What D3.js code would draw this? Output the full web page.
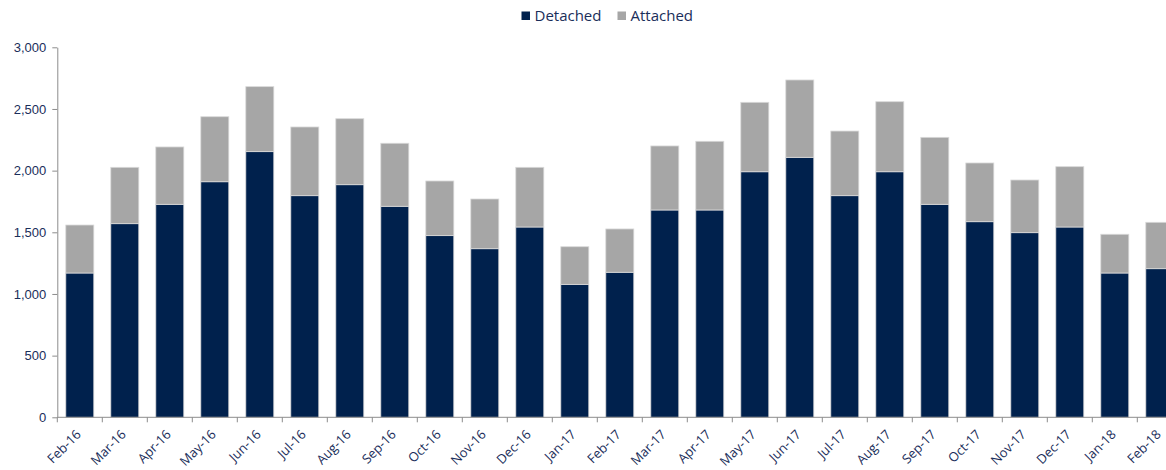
<!DOCTYPE html>
<html>
<head>
<meta charset="utf-8">
<script src="https://cdn.jsdelivr.net/npm/d3@7"></script>
<style>
  html, body { margin: 0; padding: 0; background: #fff; }
  svg { display: block; font-family: "Open Sans", "Noto Sans", sans-serif; }
</style>
</head>
<body>
<svg id="chart" width="1166" height="470"></svg>
<script>
// Monthly completions, split by dwelling type
const months = ["Feb-16","Mar-16","Apr-16","May-16","Jun-16","Jul-16","Aug-16","Sep-16","Oct-16","Nov-16","Dec-16","Jan-17",
                "Feb-17","Mar-17","Apr-17","May-17","Jun-17","Jul-17","Aug-17","Sep-17","Oct-17","Nov-17","Dec-17","Jan-18","Feb-18"];
const detached = [1170,1570,1727,1910,2154,1797,1886,1711,1473,1367,1543,1078,
                  1176,1681,1681,1991,2108,1797,1991,1727,1586,1497,1543,1170,1205];
const attached = [389,457,465,527,527,557,535,511,443,403,484,305,
                  351,519,557,563,627,524,568,543,476,427,489,314,376];
const seriesNames = ["Detached", "Attached"];
const yTicks = [0, 500, 1000, 1500, 2000, 2500, 3000];

const colors = { Detached: "#00214d", Attached: "#a6a6a6" };
const textColor = "#1a2e5a";
const axisColor = "#8c8c8c";

const svg = d3.select("#chart");
const margin = { left: 57.3, top: 47.3, bottom: 417.3 };
const xRight = margin.left + 45 * months.length;

const rows = months.map((m, i) => ({ month: m, Detached: detached[i], Attached: attached[i] }));
const stacked = d3.stack().keys(seriesNames)(rows);

const x = d3.scaleBand().domain(months).range([margin.left, xRight]).paddingInner(0.378).paddingOuter(0.189);
const y = d3.scaleLinear().domain([0, 3000]).range([margin.bottom, margin.top]);

// Bars
svg.append("g").selectAll("g")
  .data(stacked)
  .join("g")
  .attr("fill", d => colors[d.key])
  .selectAll("rect")
  .data(d => d)
  .join("rect")
  .attr("x", d => x(d.data.month))
  .attr("width", x.bandwidth())
  .attr("y", d => y(d[1]))
  .attr("height", d => y(d[0]) - y(d[1]))
  .attr("stroke", "#d9d9d9")
  .attr("stroke-width", 0.8);

// Y axis
const yAxis = svg.append("g")
  .attr("transform", `translate(${margin.left},0)`)
  .call(d3.axisLeft(y).tickValues(yTicks).tickFormat(d3.format(",")).tickSize(5).tickPadding(6).tickSizeOuter(0));
yAxis.select(".domain").attr("stroke", axisColor);
yAxis.selectAll(".tick line").attr("stroke", axisColor);
yAxis.selectAll(".tick text").attr("fill", textColor).style("font-size", "13px").attr("font-family", null);

// X axis: ticks at band boundaries
const xg = svg.append("g").attr("transform", `translate(0,${margin.bottom})`);
xg.append("line").attr("x1", margin.left).attr("x2", 1166).attr("stroke", axisColor);
const step = x.step();
const boundaries = d3.range(months.length + 1).map(i => margin.left + i * step);
xg.selectAll("line.tick").data(boundaries).join("line")
  .attr("class", "tick")
  .attr("x1", d => d).attr("x2", d => d).attr("y1", 0).attr("y2", 5)
  .attr("stroke", axisColor);
xg.selectAll("text").data(months).join("text")
  .attr("transform", d => `translate(${x(d) + x.bandwidth() / 2 + 2},${18}) rotate(-45)`)
  .attr("text-anchor", "end")
  .attr("fill", textColor)
  .style("font-size", "13px")
  .text(d => d);

// Legend
const legend = svg.append("g").attr("transform", "translate(521.5,11.5)");
const legendX = [0, 96];
seriesNames.forEach((s, i) => {
  const g = legend.append("g").attr("transform", `translate(${legendX[i]},0)`);
  g.append("rect").attr("width", 8.5).attr("height", 8.5).attr("fill", colors[s]);
  g.append("text").attr("x", 13).attr("y", 9.5).attr("fill", textColor).style("font-size", "15px").text(s);
});
</script>
</body>
</html>
